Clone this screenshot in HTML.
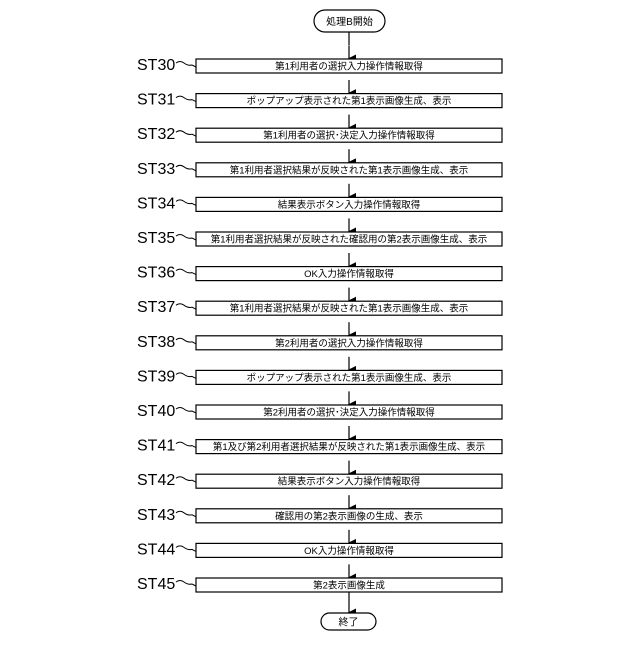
<!DOCTYPE html>
<html><head><meta charset="utf-8"><style>
body{margin:0;background:#fff;}
svg text{font-family:"Liberation Sans","Noto Sans CJK JP",sans-serif;}
</style></head><body>
<svg width="640" height="640" viewBox="0 0 640 640" xmlns="http://www.w3.org/2000/svg">
<defs>
<marker id="a" markerWidth="8" markerHeight="8" refX="4" refY="7" orient="auto" markerUnits="userSpaceOnUse"><path d="M0,0 L8,0 L4,8 Z" fill="#000"/></marker>
<g id="b">
<line x1="349" y1="-20.6" x2="349" y2="-7.5" stroke="#000" stroke-width="1.2" marker-end="url(#a)"/>
<rect x="196" y="-7" width="306" height="14" fill="#fff" stroke="#000" stroke-width="1.2"/>
<path d="M176,-3 q4,-3 8,0 q4,3 8,2 l4,2" fill="none" stroke="#000" stroke-width="1"/>
</g>
</defs>
<rect x="314" y="10" width="71" height="22" rx="11" fill="#fff" stroke="#000" stroke-width="1.2"/>
<text x="349.5" y="25" font-size="10" text-anchor="middle">処理B開始</text>
<line x1="349" y1="32" x2="349" y2="45" stroke="#000" stroke-width="1.2"/>

<g transform="translate(0,66)"><use href="#b"/><text x="349" y="3.5" font-size="9.5" text-anchor="middle">第1利用者の選択入力操作情報取得</text><text x="137" y="4" font-size="16">ST30</text></g>
<g transform="translate(0,100.6)"><use href="#b"/><text x="349" y="3.5" font-size="9.5" text-anchor="middle">ポップアップ表示された第1表示画像生成、表示</text><text x="137" y="4" font-size="16">ST31</text></g>
<g transform="translate(0,135.2)"><use href="#b"/><text x="349" y="3.5" font-size="9.5" text-anchor="middle">第1利用者の選択･決定入力操作情報取得</text><text x="137" y="4" font-size="16">ST32</text></g>
<g transform="translate(0,169.8)"><use href="#b"/><text x="349" y="3.5" font-size="9.5" text-anchor="middle">第1利用者選択結果が反映された第1表示画像生成、表示</text><text x="137" y="4" font-size="16">ST33</text></g>
<g transform="translate(0,204.4)"><use href="#b"/><text x="349" y="3.5" font-size="9.5" text-anchor="middle">結果表示ボタン入力操作情報取得</text><text x="137" y="4" font-size="16">ST34</text></g>
<g transform="translate(0,239)"><use href="#b"/><text x="349" y="3.5" font-size="9.5" text-anchor="middle">第1利用者選択結果が反映された確認用の第2表示画像生成、表示</text><text x="137" y="4" font-size="16">ST35</text></g>
<g transform="translate(0,273.6)"><use href="#b"/><text x="349" y="3.5" font-size="9.5" text-anchor="middle">OK入力操作情報取得</text><text x="137" y="4" font-size="16">ST36</text></g>
<g transform="translate(0,308.2)"><use href="#b"/><text x="349" y="3.5" font-size="9.5" text-anchor="middle">第1利用者選択結果が反映された第1表示画像生成、表示</text><text x="137" y="4" font-size="16">ST37</text></g>
<g transform="translate(0,342.8)"><use href="#b"/><text x="349" y="3.5" font-size="9.5" text-anchor="middle">第2利用者の選択入力操作情報取得</text><text x="137" y="4" font-size="16">ST38</text></g>
<g transform="translate(0,377.4)"><use href="#b"/><text x="349" y="3.5" font-size="9.5" text-anchor="middle">ポップアップ表示された第1表示画像生成、表示</text><text x="137" y="4" font-size="16">ST39</text></g>
<g transform="translate(0,412)"><use href="#b"/><text x="349" y="3.5" font-size="9.5" text-anchor="middle">第2利用者の選択･決定入力操作情報取得</text><text x="137" y="4" font-size="16">ST40</text></g>
<g transform="translate(0,446.6)"><use href="#b"/><text x="349" y="3.5" font-size="9.5" text-anchor="middle">第1及び第2利用者選択結果が反映された第1表示画像生成、表示</text><text x="137" y="4" font-size="16">ST41</text></g>
<g transform="translate(0,481.2)"><use href="#b"/><text x="349" y="3.5" font-size="9.5" text-anchor="middle">結果表示ボタン入力操作情報取得</text><text x="137" y="4" font-size="16">ST42</text></g>
<g transform="translate(0,515.8)"><use href="#b"/><text x="349" y="3.5" font-size="9.5" text-anchor="middle">確認用の第2表示画像の生成、表示</text><text x="137" y="4" font-size="16">ST43</text></g>
<g transform="translate(0,550.4)"><use href="#b"/><text x="349" y="3.5" font-size="9.5" text-anchor="middle">OK入力操作情報取得</text><text x="137" y="4" font-size="16">ST44</text></g>
<g transform="translate(0,585)"><use href="#b"/><text x="349" y="3.5" font-size="9.5" text-anchor="middle">第2表示画像生成</text><text x="137" y="4" font-size="16">ST45</text></g>

<line x1="349" y1="592" x2="349" y2="612.5" stroke="#000" stroke-width="1.2" marker-end="url(#a)"/>
<rect x="321" y="613" width="55" height="17" rx="8.5" fill="#fff" stroke="#000" stroke-width="1.2"/>
<text x="348.5" y="625.5" font-size="10" text-anchor="middle">終了</text>
</svg>
</body></html>
